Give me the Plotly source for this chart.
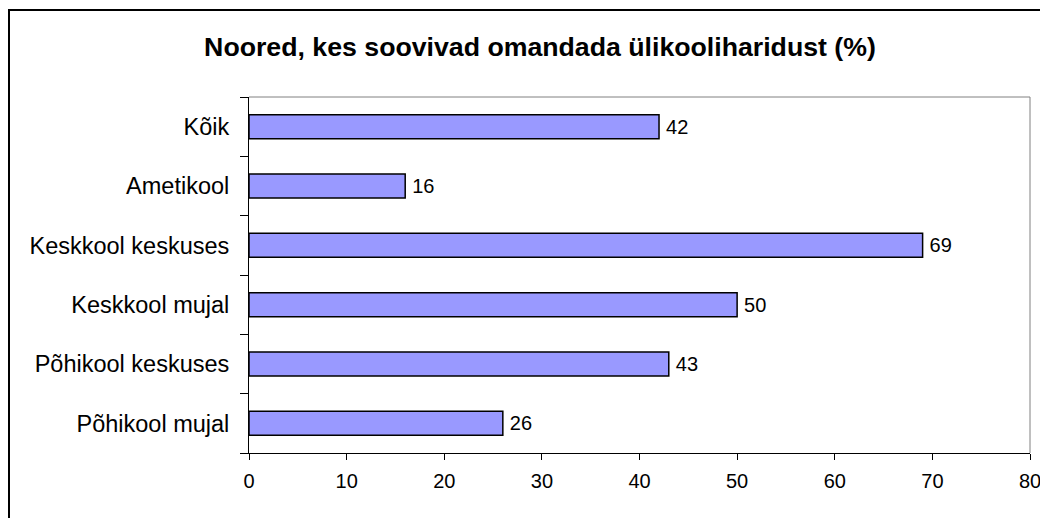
import plotly.graph_objects as go

categories = ["Kõik", "Ametikool", "Keskkool keskuses", "Keskkool mujal", "Põhikool keskuses", "Põhikool mujal"]
values = [42, 16, 69, 50, 43, 26]
x_ticks = [0, 10, 20, 30, 40, 50, 60, 70, 80]
title_text = "Noored, kes soovivad omandada ülikooliharidust (%)"

# page body has an 8px margin, so figure is 8px smaller and offsets are shifted
OFF = 8
W, H = 1048 - OFF, 518 - OFF
L, R, T, B = 249 - OFF, 1030 - OFF, 97 - OFF, 453 - OFF
FONT = "Liberation Sans, Arial, sans-serif"

fig = go.Figure()
fig.add_trace(go.Bar(
    y=categories, x=values, orientation="h",
    marker=dict(color="#9999FF", line=dict(color="black", width=1.5)),
    text=["\u2009" + str(v) for v in values], textposition="outside",
    textfont=dict(family=FONT, size=20, color="black"),
    cliponaxis=False, width=0.405,
))

def px_x(p):
    return (p - OFF - L) / (R - L)

def px_y(p):
    return (B - (p - OFF)) / (B - T)

shapes = [
    dict(type="rect", xref="paper", yref="paper",
         x0=px_x(9), x1=px_x(1070), y0=px_y(540), y1=px_y(10),
         line=dict(color="black", width=2), fillcolor="rgba(0,0,0,0)"),
    dict(type="line", xref="paper", yref="paper", x0=0, x1=1, y0=1, y1=1,
         line=dict(color="#808080", width=1)),
    dict(type="line", xref="paper", yref="paper", x0=1, x1=1, y0=0, y1=1,
         line=dict(color="#808080", width=1)),
]

fig.update_layout(
    width=W, height=H,
    margin=dict(l=L, r=W - R, t=T, b=H - B, autoexpand=False),
    paper_bgcolor="white", plot_bgcolor="white",
    showlegend=False,
    font=dict(family=FONT, size=20, color="black"),
    title=dict(text="<b>" + title_text + "</b>", x=(540 - OFF) / W, xref="container", xanchor="center",
               y=1 - (47 - OFF) / H, yref="container", yanchor="middle",
               font=dict(family=FONT, size=26.7, color="black")),
    xaxis=dict(range=[0, 80], tickvals=x_ticks, ticks="outside", ticklen=6, tickcolor="black",
               showline=True, linecolor="black", linewidth=1, showgrid=False, zeroline=False,
               tickfont=dict(family=FONT, size=20, color="black"), ticklabelstandoff=4,
               automargin=False, fixedrange=True),
    yaxis=dict(categoryorder="array", categoryarray=categories[::-1],
               ticks="outside", tickson="boundaries", ticklen=8, tickcolor="black",
               showline=True, linecolor="black", linewidth=1, showgrid=False,
               tickfont=dict(family=FONT, size=23.5, color="black"), ticklabelstandoff=14,
               automargin=False, fixedrange=True),
    shapes=shapes,
    bargap=0.6,
)

fig.write_html("out.html")
